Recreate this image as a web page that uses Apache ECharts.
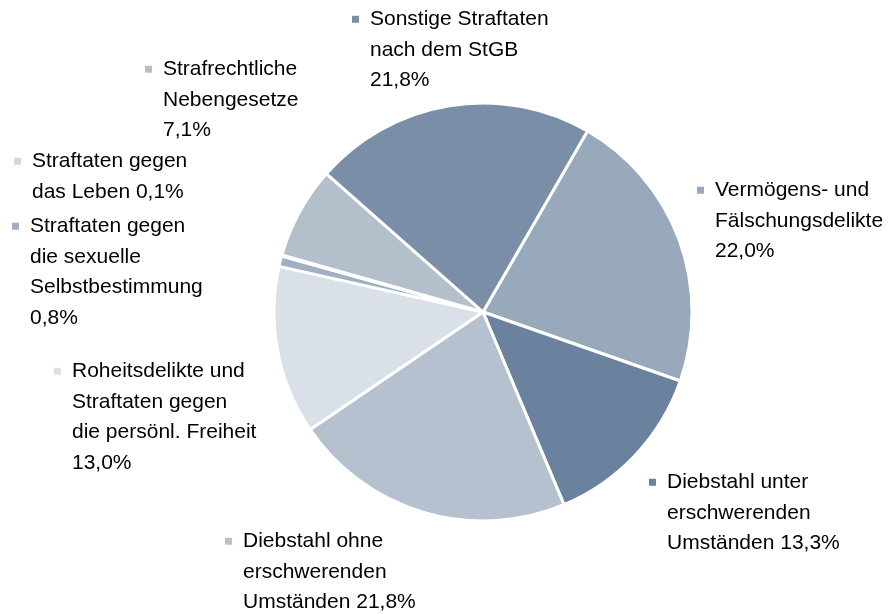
<!DOCTYPE html>
<html>
<head>
<meta charset="utf-8">
<script src="https://cdn.jsdelivr.net/npm/echarts@6/dist/echarts.min.js"></script>
<style>
html,body{margin:0;padding:0;background:#fff;}
#c{width:891px;height:614px;}
</style>
</head>
<body>
<div id="c"></div>
<script>
// Data
const categories = [
  "Vermögens- und\nFälschungsdelikte",
  "Diebstahl unter\nerschwerenden\nUmständen",
  "Diebstahl ohne\nerschwerenden\nUmständen",
  "Roheitsdelikte und\nStraftaten gegen\ndie persönl. Freiheit",
  "Straftaten gegen\ndie sexuelle\nSelbstbestimmung",
  "Straftaten gegen\ndas Leben",
  "Strafrechtliche\nNebengesetze",
  "Sonstige Straftaten\nnach dem StGB"
];
const shares = [22.0, 13.3, 21.8, 13.0, 0.8, 0.1, 7.1, 21.8];
// whether the percentage goes on its own line
const pctOwnLine = [true, false, false, true, true, false, true, true];

// Styles
const colors = ["#98a9bc", "#6a829d", "#b5c1ce", "#dae0e7", "#9fb0c2", "#d0d8e0", "#b4bfcc", "#7a8fa7"];
const labelPos = [
  [697, 175], [649, 467], [225, 526], [54, 356],
  [12, 211], [14, 146], [145, 54], [352, 4]
];

const chart = echarts.init(document.getElementById('c'));
chart.setOption({
  animation: false,
  series: [{
    type: 'pie',
    center: [483, 312],
    radius: 209,
    startAngle: 60,
    clockwise: true,
    avoidLabelOverlap: false,
    itemStyle: { borderColor: '#fff', borderWidth: 3 },
    labelLine: { show: false },
    label: {
      show: true,
      position: 'outside',
      fontFamily: 'Liberation Sans, Arial, sans-serif',
      fontSize: 21,
      color: '#000',
      lineHeight: 30.5,
      formatter: function (p) {
        const pct = p.value.toFixed(1).replace('.', ',') + '%';
        const txt = p.name + (pctOwnLine[p.dataIndex] ? '\n' : ' ') + pct;
        const lines = txt.split('\n');
        return lines.map(function (l, i) {
          return (i === 0 ? '{m' + p.dataIndex + '|}{g|}' : '{s|}') + '{t|' + l + '}';
        }).join('\n');
      },
      rich: (function () {
        const r = {
          g: { width: 11, height: 7 },
          s: { width: 18, height: 7 },
          t: { fontSize: 21, lineHeight: 30.5, fontFamily: 'Liberation Sans, Arial, sans-serif', color: '#000' }
        };
        colors.forEach(function (c, i) { r['m' + i] = { width: 7, height: 7, backgroundColor: c }; });
        return r;
      })()
    },
    labelLayout: function (params) {
      const pos = labelPos[params.dataIndex];
      return { x: pos[0], y: pos[1], align: 'left', verticalAlign: 'top' };
    },
    data: categories.map(function (n, i) {
      return { name: n, value: shares[i], itemStyle: { color: colors[i] } };
    })
  }]
});
</script>
</body>
</html>
